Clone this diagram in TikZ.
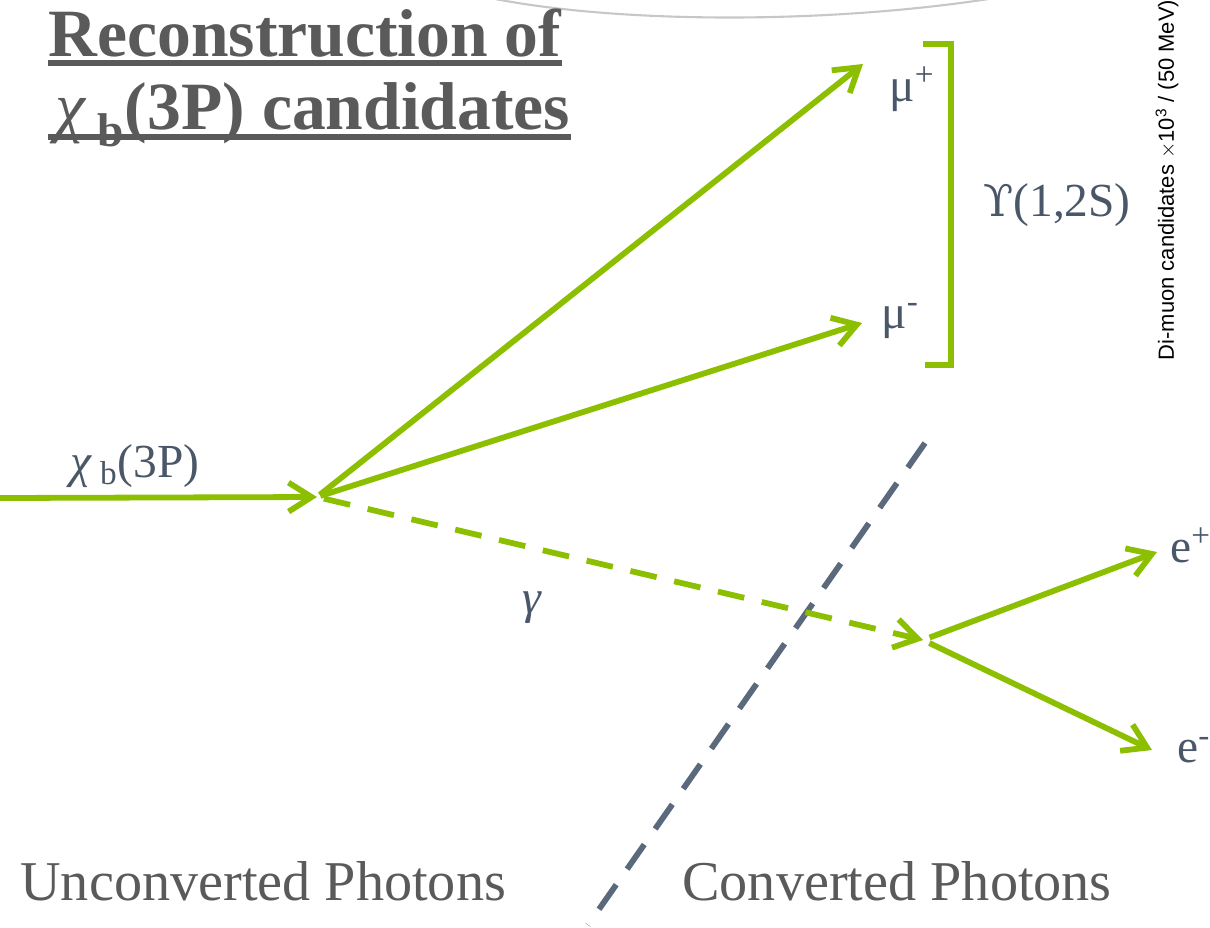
\documentclass[tikz,border=0pt]{standalone}
\usepackage{fontspec}
\setmainfont{Liberation Serif}
\setsansfont{Liberation Sans}
\newfontfamily\upsfont{DejaVu Serif}
\usetikzlibrary{arrows.meta, calc}
\definecolor{Lime}{HTML}{8CBF00}
\definecolor{Slate}{HTML}{4A5768}
\definecolor{SlateLine}{HTML}{5A6A7C}
\definecolor{TitleGray}{HTML}{5A5A5A}

\begin{document}
\begin{tikzpicture}[x=0.02cm, y=-0.02cm,
  track/.style={Lime, line width=3.3pt, -{Straight Barb[length=0.46cm, width=0.58cm]}},
  photon/.style={track, dash pattern=on 0.54cm off 0.36cm},
  particle/.style={text=Slate, font=\fontsize{27}{30}\selectfont, inner sep=0pt, anchor=base west},
  region/.style={text=TitleGray, font=\fontsize{32}{36}\selectfont, inner sep=0pt, anchor=base west},
  heading/.style={text=TitleGray, font=\fontsize{38.5}{42}\selectfont\bfseries, inner sep=0pt, anchor=base west}]
  \useasboundingbox (0,0) rectangle (1210,927);

  % faint arc at the top edge
  \draw[black!22, line width=1.2pt] (490,-2) .. controls (620,24) and (830,24) .. (995,-2);

  \node (title1) [heading] at (48,56) {Reconstruction of};
  \node (title2) [heading] at (55,129) {\textmd{\textit{χ}}\,\textsubscript{b}(3P) candidates};
  \draw[TitleGray, line width=3pt] ($(title1.base west)+(0,7)$) -- ($(title1.base east)+(0,7)$);
  \draw[TitleGray, line width=3pt] ($(title2.base west)+(-7,8)$) -- ($(title2.base east)+(0,8)$);

  \coordinate (in) at (0,498);
  \coordinate (vtx) at (317,497);
  \coordinate (muplus) at (863,64);
  \coordinate (muminus) at (862,323);
  \coordinate (conv) at (923,640);
  \coordinate (eplus) at (1157,552);
  \coordinate (eminus) at (1152,750);
  \coordinate (cuttop) at (925,443);
  \coordinate (cutlow) at (588,925);

  \node (chib) [particle] at (70,477) {\textit{χ}\,\textsubscript{b}(3P)};
  \node (mup) [particle] at (889,101) {μ\textsuperscript{+}};
  \node (mum) [particle] at (881,328) {μ\textsuperscript{-}};
  \node (ups) [particle] at (983,216) {{\upsfont\fontsize{25}{30}\selectfont ϒ}(1,2S)};
  \node (gam) [particle, anchor=center] at (532,608) {\textit{γ}};
  \node (ep) [particle] at (1170,562) {e\textsuperscript{+}};
  \node (em) [particle] at (1177,762) {e\textsuperscript{-}};

  \node (unconv) [region] at (20,900) {Unconverted Photons};
  \node (convd) [region] at (682,900) {Converted Photons};

  \node (axis) [rotate=90, font=\sffamily\fontsize{12.5}{14}\selectfont] at (1167,180)
    {Di-muon candidates $\times$10\textsuperscript{3} / (50 MeV)};

  \draw[SlateLine, line width=3.3pt, dash pattern=on 0.6cm off 0.38cm] (cuttop) -- (cutlow);

  \draw[track] (in) -- (vtx);
  \draw[track, shorten <=2pt] (vtx) -- (muplus);
  \draw[track, shorten <=2pt] (vtx) -- (muminus);
  \draw[photon, shorten <=4pt] (vtx) -- (conv);
  \draw[track, shorten <=4pt] (conv) -- (eplus);
  \draw[track, shorten <=4pt] (conv) -- (eminus);

  % Upsilon bracket
  \draw[Lime, line width=3.3pt] (923,44) -- (951,44) -- (951,365) -- (925,365);
\end{tikzpicture}
\end{document}
